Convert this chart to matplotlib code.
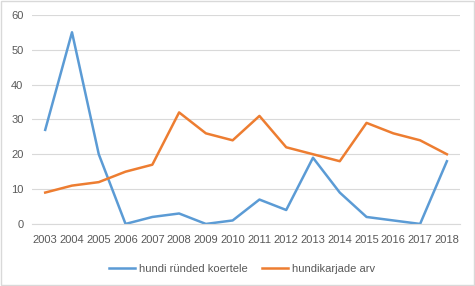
import matplotlib
matplotlib.use("Agg")
import matplotlib.pyplot as plt
from matplotlib.patches import Rectangle

years = [str(y) for y in range(2003, 2019)]
attacks = [27, 55, 20, 0, 2, 3, 0, 1, 7, 4, 19, 9, 2, 1, 0, 18]
packs = [9, 11, 12, 15, 17, 32, 26, 24, 31, 22, 20, 18, 29, 26, 24, 20]

plt.rcParams['font.family'] = ['Liberation Sans', 'DejaVu Sans']

fig = plt.figure(figsize=(4.75, 2.86), dpi=100)
ax = fig.add_axes([0.067, 0.217, 0.902, 0.731])

x = list(range(len(years)))
ax.plot(x, attacks, color="#5B9BD5", lw=1.8, label="hundi ründed koertele", solid_joinstyle="round")
ax.plot(x, packs, color="#ED7D31", lw=1.8, label="hundikarjade arv", solid_joinstyle="round")

ax.set_xlim(-0.5, len(years) - 0.5)
ax.set_ylim(0, 60)
ax.set_yticks(range(0, 61, 10))
ax.set_xticks(x)
ax.set_xticklabels(years)
ax.grid(axis="y", color="#D9D9D9", lw=0.8)
ax.set_axisbelow(True)
for s in ax.spines.values():
    s.set_visible(False)
ax.spines["bottom"].set_visible(True)
ax.spines["bottom"].set_color("#D9D9D9")
ax.tick_params(length=0, colors="#595959", labelsize=8)
ax.tick_params(axis="x", pad=8)
ax.tick_params(axis="y", pad=6)

ax.legend(loc="upper center", bbox_to_anchor=(0.49, -0.145), ncol=2, frameon=False,
          fontsize=8, labelcolor="#595959", handlelength=2.4, columnspacing=1.3, handletextpad=0.3)

fig.patches.append(Rectangle((0.002, 0.003), 0.995, 0.993, transform=fig.transFigure,
                             fill=False, edgecolor="#D9D9D9", lw=1))
fig.savefig("out.png", dpi=100)
